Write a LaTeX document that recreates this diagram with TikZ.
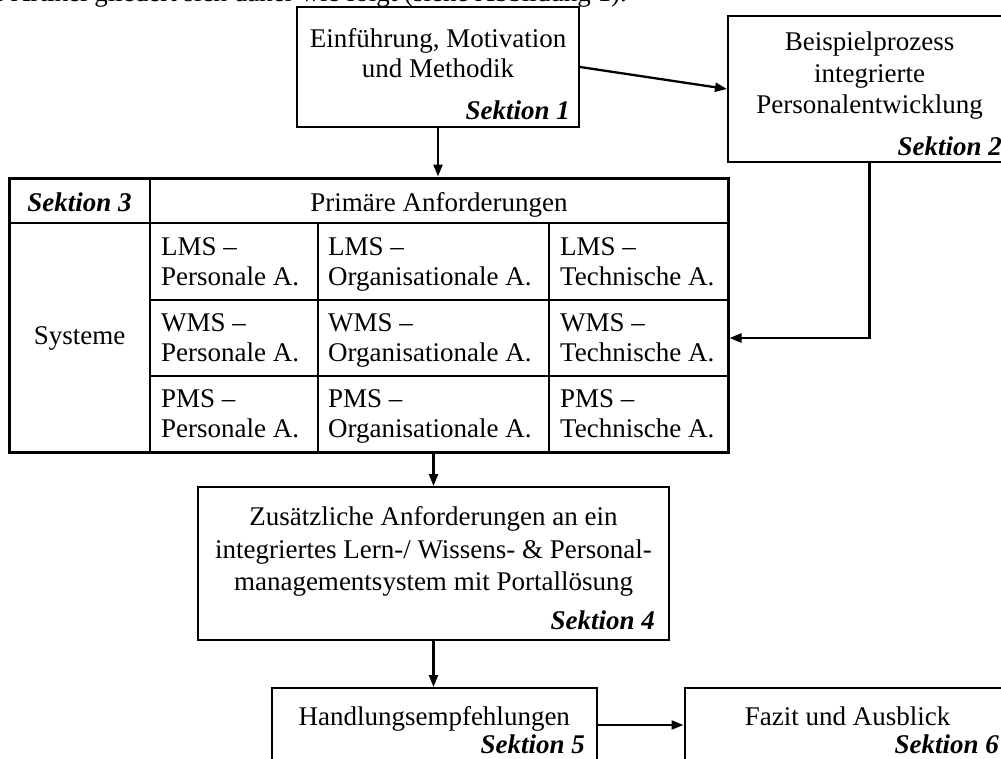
\documentclass[tikz,border=0pt]{standalone}
\usepackage{fontspec}
\setmainfont{Liberation Serif}
\usetikzlibrary{arrows.meta}
\begin{document}
\begin{tikzpicture}[x=1pt,y=-1pt,
  every node/.style={font=\fontsize{27}{30}\selectfont, inner sep=0pt},
  box/.style={draw, line width=2pt, rectangle},
  tabframe/.style={draw, line width=3pt, rectangle},
  grid/.style={line width=1.4pt},
  arr/.style={line width=2.3pt, -{Triangle[length=12pt,width=9pt]}},
  sek/.style={anchor=base east, font=\fontsize{27}{30}\selectfont\bfseries\itshape},
  txt/.style={anchor=base},
  cell/.style={anchor=base west}]
\useasboundingbox (0,0) rectangle (1001,758);
\clip (0,0) rectangle (1001,758);

% running text above the figure
\node[anchor=base east] (intro) at (627,1) {e Artikel gliedert sich daher wie folgt (siehe Abbildung 1).};

% Section 1
\node[box, minimum width=282pt, minimum height=120pt] (s1) at (438,67) {};
\node[txt] (s1a) at (438,47) {Einführung, Motivation};
\node[txt] (s1b) at (438,77) {und Methodik};
\node[sek] (s1k) at (570,119) {Sektion 1};

% Section 2
\node[box, minimum width=283pt, minimum height=146pt] (s2) at (869.5,89) {};
\node[txt] (s2a) at (869.5,50) {Beispielprozess};
\node[txt] (s2b) at (869.5,82) {integrierte};
\node[txt] (s2c) at (869.5,113) {Personalentwicklung};
\node[sek] (s2k) at (1002,155) {Sektion 2};

% Section 3: requirements table
\draw[grid] (150,178) -- (150,452);
\draw[grid] (318,223) -- (318,452);
\draw[grid] (549,223) -- (549,452);
\draw[grid] (9,223) -- (728,223);
\draw[grid] (150,300) -- (728,300);
\draw[grid] (150,376) -- (728,376);
\node[tabframe, minimum width=719pt, minimum height=274pt] (tab) at (368.5,315) {};
\node[sek, anchor=base] (s3k) at (79.5,211) {Sektion 3};
\node[txt] (head) at (439,211) {Primäre Anforderungen};
\node[txt] (sys) at (79.5,344) {Systeme};

\node[cell] (c11a) at (161,255) {LMS --};
\node[cell] (c11b) at (161,285) {Personale A.};
\node[cell] (c12a) at (328,255) {LMS --};
\node[cell] (c12b) at (328,285) {Organisationale A.};
\node[cell] (c13a) at (560,255) {LMS --};
\node[cell] (c13b) at (560,285) {Technische A.};

\node[cell] (c21a) at (161,331) {WMS --};
\node[cell] (c21b) at (161,361) {Personale A.};
\node[cell] (c22a) at (328,331) {WMS --};
\node[cell] (c22b) at (328,361) {Organisationale A.};
\node[cell] (c23a) at (560,331) {WMS --};
\node[cell] (c23b) at (560,361) {Technische A.};

\node[cell] (c31a) at (161,407) {PMS --};
\node[cell] (c31b) at (161,437) {Personale A.};
\node[cell] (c32a) at (328,407) {PMS --};
\node[cell] (c32b) at (328,437) {Organisationale A.};
\node[cell] (c33a) at (560,407) {PMS --};
\node[cell] (c33b) at (560,437) {Technische A.};

% Section 4
\node[box, minimum width=471pt, minimum height=153pt] (s4) at (433.5,563.5) {};
\node[txt] (s4a) at (433.5,525) {Zusätzliche Anforderungen an ein};
\node[txt] (s4b) at (433.5,558) {integriertes Lern-/ Wissens- \& Personal-};
\node[txt] (s4c) at (433.5,590) {managementsystem mit Portallösung};
\node[sek] (s4k) at (655,629) {Sektion 4};

% Sections 5 and 6
\node[box, minimum width=325.5pt, minimum height=74pt] (s5) at (434.25,725) {};
\node[txt] (s5a) at (434.25,725) {Handlungsempfehlungen};
\node[sek] (s5k) at (585,753) {Sektion 5};
\node[box, minimum width=326pt, minimum height=74pt] (s6) at (847.5,725) {};
\node[txt] (s6a) at (847.5,725) {Fazit und Ausblick};
\node[sek] (s6k) at (999,753) {Sektion 6};

% connectors
\coordinate (bend) at (869.5,338);
\draw[arr] (s1.east) -- (s2.west);
\draw[arr] (s1.south) -- (s1.south |- tab.north);
\draw[arr] (s2.south) -- (bend) -- (bend -| tab.east);
\draw[arr] (s4.north |- tab.south) -- (s4.north);
\draw[arr] (s4.south) -- (s4.south |- s5.north);
\draw[arr] (s5.east) -- (s6.west);
\end{tikzpicture}
\end{document}
